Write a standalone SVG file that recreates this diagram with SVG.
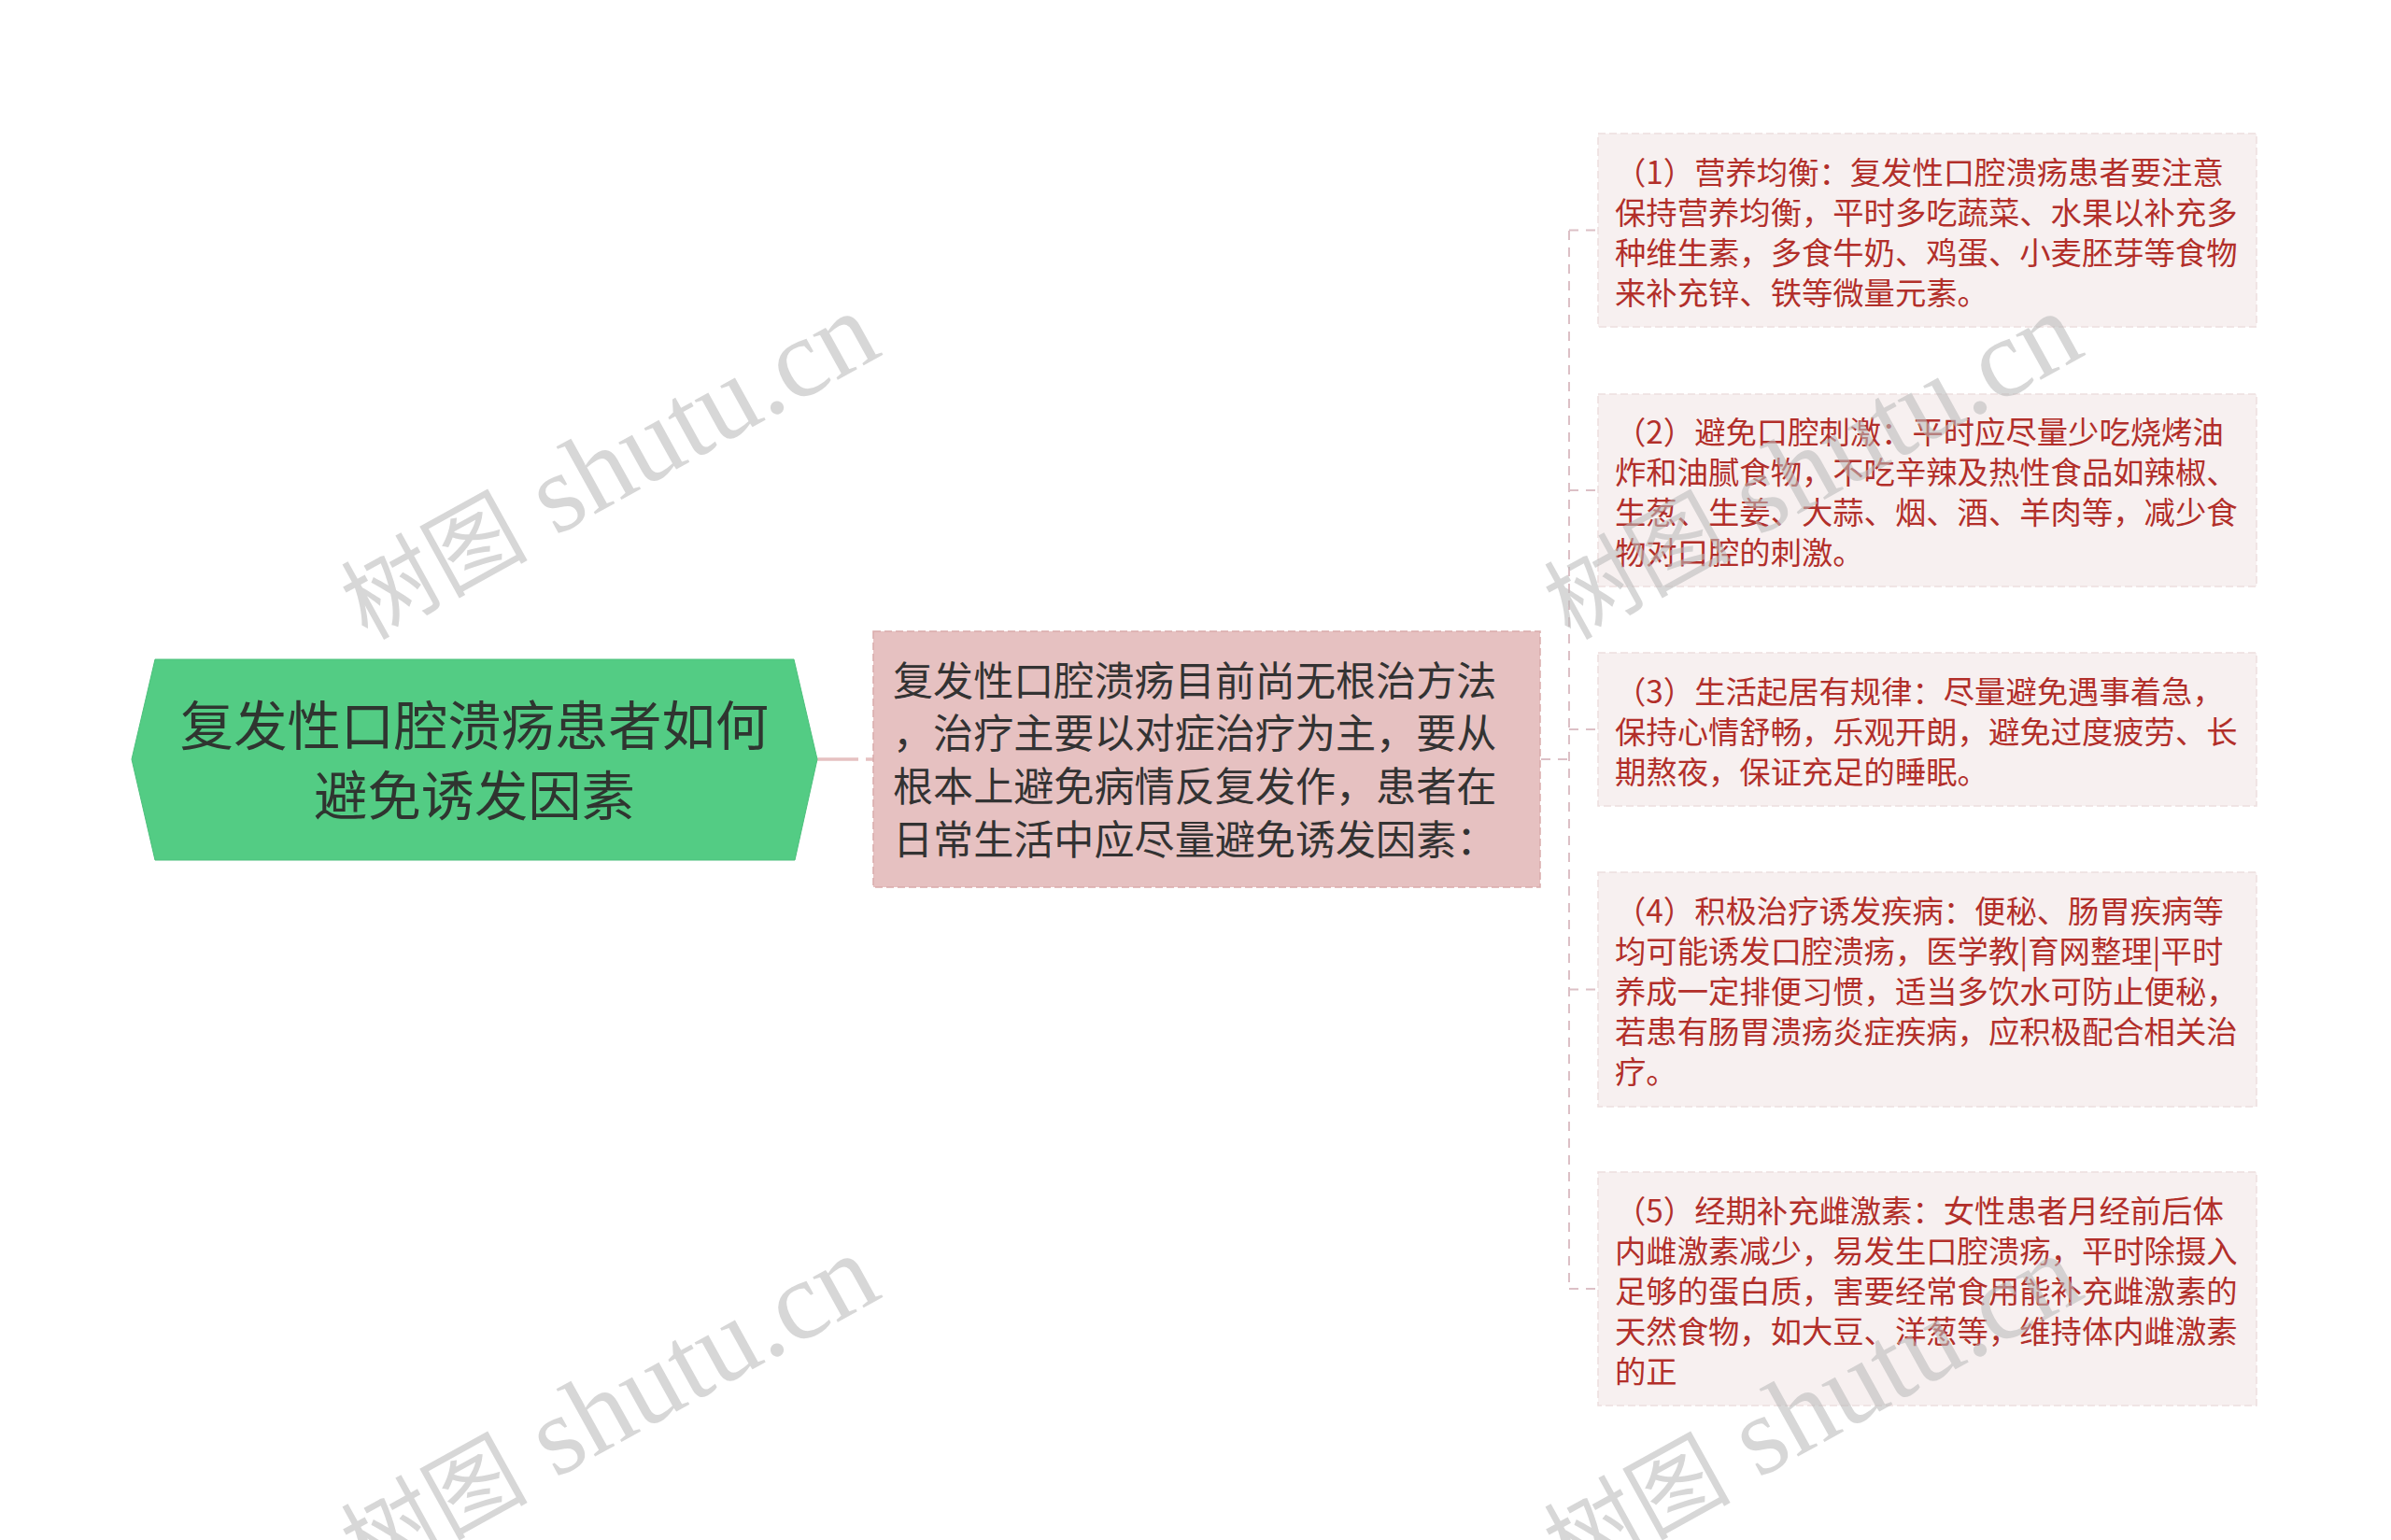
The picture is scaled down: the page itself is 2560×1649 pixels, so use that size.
<svg xmlns="http://www.w3.org/2000/svg" width="2560" height="1649" viewBox="0 0 2560 1649">
<style>
  .root-text { font-family: "Noto Sans CJK SC", "Liberation Sans", sans-serif; font-size: 57.3px; fill: #2f3530; text-anchor: middle; }
  .mid-text { font-family: "Noto Sans CJK SC", "Liberation Sans", sans-serif; font-size: 43.1px; fill: #333333; }
  .leaf-text { font-family: "Noto Sans CJK SC", "Liberation Sans", sans-serif; font-size: 33.35px; fill: #b22f2a; }
  .leaf-box { fill: #f7f0f0; stroke: #eddede; stroke-width: 1.5; stroke-dasharray: 8 4; }
  .conn { fill: none; stroke: #dcc0c6; stroke-width: 2; stroke-dasharray: 10 8; }
  .wm { font-family: "Liberation Serif", "Noto Sans CJK SC", serif; font-size: 120px; fill: #bbbbbb; opacity: 0.58; }
  .wm-cjk { font-size: 100px; }
</style>
<rect x="0" y="0" width="2560" height="1649" fill="#ffffff"/>

<g id="connectors">
  <line x1="875" y1="813" x2="935" y2="813" stroke="#e6c1c1" stroke-width="3.5" stroke-dasharray="44 8"/>
  <line class="conn" x1="1650" y1="813" x2="1680" y2="813"/>
  <line class="conn" x1="1680" y1="247" x2="1680" y2="1380"/>
  <line class="conn" x1="1680" y1="246.5" x2="1711" y2="246.5"/>
  <line class="conn" x1="1680" y1="525" x2="1711" y2="525"/>
  <line class="conn" x1="1680" y1="781" x2="1711" y2="781"/>
  <line class="conn" x1="1680" y1="1059.5" x2="1711" y2="1059.5"/>
  <line class="conn" x1="1680" y1="1380" x2="1711" y2="1380"/>
</g>

<g id="root">
  <polygon points="141,813 166,706 850,706 875,813 851,921 166,921" fill="#53cc84" stroke="#4cc07c" stroke-width="1"/>
  <text class="root-text" x="508" y="798">复发性口腔溃疡患者如何</text>
  <text class="root-text" x="508" y="873">避免诱发因素</text>
</g>

<g id="center">
  <rect x="935" y="676" width="714" height="274" fill="#e6c1c1" stroke="#d9abab" stroke-width="1.5" stroke-dasharray="8 4"/>
  <text class="mid-text">
    <tspan x="956" y="744.5">复发性口腔溃疡目前尚无根治方法</tspan>
    <tspan x="956" y="801.2">，治疗主要以对症治疗为主，要从</tspan>
    <tspan x="956" y="857.9">根本上避免病情反复发作，患者在</tspan>
    <tspan x="956" y="914.6">日常生活中应尽量避免诱发因素：</tspan>
  </text>
</g>

<g id="leaf1">
  <rect class="leaf-box" x="1711" y="143" width="705" height="207"/>
  <text class="leaf-text">
    <tspan x="1729" y="196.5">（1）营养均衡：复发性口腔溃疡患者要注意</tspan>
    <tspan x="1729" y="239.5">保持营养均衡，平时多吃蔬菜、水果以补充多</tspan>
    <tspan x="1729" y="282.5">种维生素，多食牛奶、鸡蛋、小麦胚芽等食物</tspan>
    <tspan x="1729" y="325.5">来补充锌、铁等微量元素。</tspan>
  </text>
</g>

<g id="leaf2">
  <rect class="leaf-box" x="1711" y="422" width="705" height="206"/>
  <text class="leaf-text">
    <tspan x="1729" y="475">（2）避免口腔刺激：平时应尽量少吃烧烤油</tspan>
    <tspan x="1729" y="518">炸和油腻食物，不吃辛辣及热性食品如辣椒、</tspan>
    <tspan x="1729" y="561">生葱、生姜、大蒜、烟、酒、羊肉等，减少食</tspan>
    <tspan x="1729" y="604">物对口腔的刺激。</tspan>
  </text>
</g>

<g id="leaf3">
  <rect class="leaf-box" x="1711" y="699" width="705" height="164"/>
  <text class="leaf-text">
    <tspan x="1729" y="752.5">（3）生活起居有规律：尽量避免遇事着急，</tspan>
    <tspan x="1729" y="795.5">保持心情舒畅，乐观开朗，避免过度疲劳、长</tspan>
    <tspan x="1729" y="838.5">期熬夜，保证充足的睡眠。</tspan>
  </text>
</g>

<g id="leaf4">
  <rect class="leaf-box" x="1711" y="934" width="705" height="251"/>
  <text class="leaf-text">
    <tspan x="1729" y="988">（4）积极治疗诱发疾病：便秘、肠胃疾病等</tspan>
    <tspan x="1729" y="1031">均可能诱发口腔溃疡，医学教|育网整理|平时</tspan>
    <tspan x="1729" y="1074">养成一定排便习惯，适当多饮水可防止便秘，</tspan>
    <tspan x="1729" y="1117">若患有肠胃溃疡炎症疾病，应积极配合相关治</tspan>
    <tspan x="1729" y="1160">疗。</tspan>
  </text>
</g>

<g id="leaf5">
  <rect class="leaf-box" x="1711" y="1255" width="705" height="250"/>
  <text class="leaf-text">
    <tspan x="1729" y="1308.5">（5）经期补充雌激素：女性患者月经前后体</tspan>
    <tspan x="1729" y="1351.5">内雌激素减少，易发生口腔溃疡，平时除摄入</tspan>
    <tspan x="1729" y="1394.5">足够的蛋白质，害要经常食用能补充雌激素的</tspan>
    <tspan x="1729" y="1437.5">天然食物，如大豆、洋葱等，维持体内雌激素</tspan>
    <tspan x="1729" y="1480.5">的正</tspan>
  </text>
</g>

<g id="watermarks">
  <text class="wm" transform="translate(393,686) rotate(-29)"><tspan class="wm-cjk">树图</tspan> shutu.cn</text>
  <text class="wm" transform="translate(1681,686) rotate(-29)"><tspan class="wm-cjk">树图</tspan> shutu.cn</text>
  <text class="wm" transform="translate(393,1695) rotate(-29)"><tspan class="wm-cjk">树图</tspan> shutu.cn</text>
  <text class="wm" transform="translate(1681,1695) rotate(-29)"><tspan class="wm-cjk">树图</tspan> shutu.cn</text>
</g>
</svg>
